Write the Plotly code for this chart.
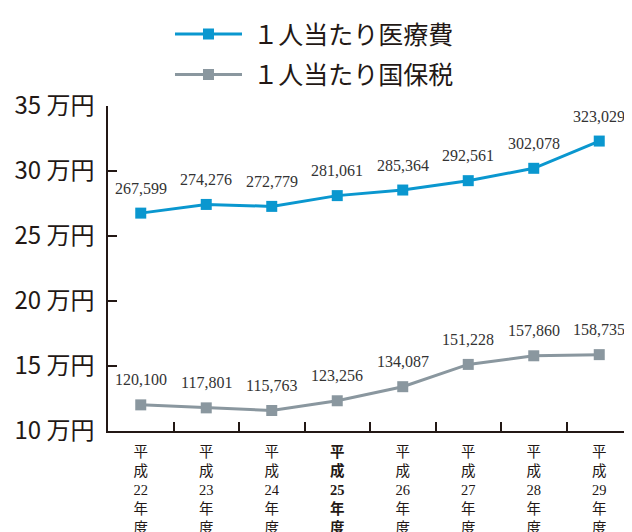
import plotly.graph_objects as go

categories = ["平成22年度", "平成23年度", "平成24年度", "平成25年度",
              "平成26年度", "平成27年度", "平成28年度", "平成29年度"]
tick_labels = ["平<br>成<br>22<br>年<br>度", "平<br>成<br>23<br>年<br>度",
               "平<br>成<br>24<br>年<br>度", "<b>平<br>成<br>25<br>年<br>度</b>",
               "平<br>成<br>26<br>年<br>度", "平<br>成<br>27<br>年<br>度",
               "平<br>成<br>28<br>年<br>度", "平<br>成<br>29<br>年<br>度"]
medical_cost = [267599, 274276, 272779, 281061, 285364, 292561, 302078, 323029]
insurance_tax = [120100, 117801, 115763, 123256, 134087, 151228, 157860, 158735]
y_ticks = [10, 15, 20, 25, 30, 35]
y_tick_labels = ["10 万円", "15 万円", "20 万円", "25 万円", "30 万円", "35 万円"]

BLUE = "#0a97cf"
GRAY = "#8a979f"
SERIF = "Liberation Serif, DejaVu Serif, Noto Sans CJK JP"
SANS = "Noto Sans CJK JP, Noto Sans, sans-serif"

fig = go.Figure()
series = [("\u00a0１人当たり医療費", medical_cost, BLUE, "a"),
          ("\u00a0１人当たり国保税", insurance_tax, GRAY, "b")]
for name, vals, color, grp in series:
    ys = [v / 10000 for v in vals]
    fig.add_trace(go.Scatter(
        x=categories, y=ys, name=name, legendgroup=grp,
        mode="lines+markers",
        line=dict(color=color, width=3),
        marker=dict(symbol="square", size=11, color=color),
        cliponaxis=False,
    ))
    for c, v, yv in zip(categories, vals, ys):
        fig.add_annotation(x=c, y=yv, text=f"{v:,}", showarrow=False,
                           yshift=25, font=dict(family=SERIF, size=16, color="#333333"))

# The page body adds an 8px offset, so the figure is sized to end at the window edge.
fig.update_layout(
    width=624, height=524,
    margin=dict(l=100, r=0, t=98, b=101, autoexpand=False),
    paper_bgcolor="white", plot_bgcolor="white",
    showlegend=True,
    legend=dict(x=0.2596, xanchor="left", xref="container",
                y=0.994, yanchor="top", yref="container",
                font=dict(family=SERIF, size=25, color="#231815"),
                itemwidth=67, tracegroupgap=5, bgcolor="rgba(0,0,0,0)"),
    xaxis=dict(type="category", tickvals=categories, ticktext=tick_labels,
               tickson="boundaries", ticks="inside", ticklen=9, tickwidth=1.5,
               tickcolor="#231815", showline=True, linecolor="#231815", linewidth=1.5,
               showgrid=False, range=[-0.5, 7.5], automargin=False,
               ticklabelstandoff=7,
               tickfont=dict(family=SERIF, size=14.5, color="#231815")),
    yaxis=dict(range=[10, 35], tickvals=y_ticks, ticktext=y_tick_labels,
               ticks="inside", ticklen=9, tickwidth=1.5, tickcolor="#231815",
               showline=True, linecolor="#231815", linewidth=1.5, showgrid=False,
               zeroline=False, ticklabelstandoff=7, automargin=False,
               tickfont=dict(family=SANS, size=24, color="#231815")),
)
fig.write_html("out.html")
